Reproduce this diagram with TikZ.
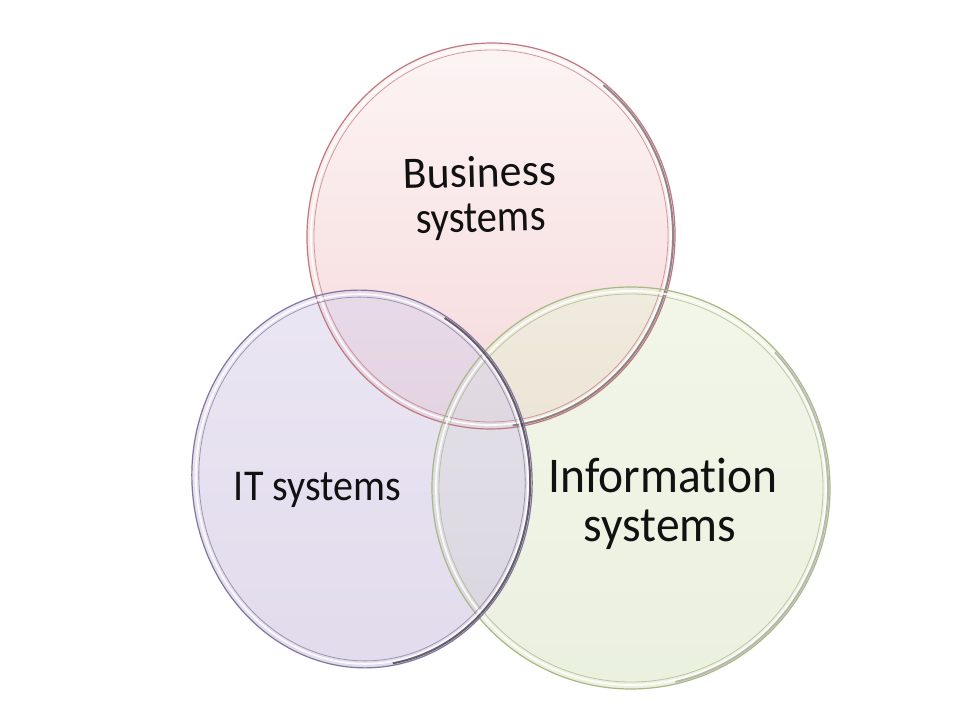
\documentclass[tikz,border=0pt]{standalone}
\usepackage{fontspec}
\setmainfont{Carlito}[Ligatures=NoCommon]
\definecolor{bizTop}{RGB}{252,238,238}
\definecolor{bizBot}{RGB}{240,192,195}
\definecolor{itTop}{RGB}{222,214,236}
\definecolor{itBot}{RGB}{206,196,224}
\definecolor{inTop}{RGB}{234,241,220}
\definecolor{inBot}{RGB}{222,231,202}
\definecolor{bizLine}{RGB}{190,120,126}
\definecolor{itLine}{RGB}{128,118,158}
\definecolor{inLine}{RGB}{168,184,132}
\definecolor{bevel}{RGB}{60,52,62}
\definecolor{ink}{RGB}{17,17,17}
\begin{document}
\begin{tikzpicture}[x=1pt,y=1pt,
  disc/.style={fill opacity=0.6},
  rim/.style={line width=1.2pt},
  glint/.style={white, line width=1.8pt, opacity=0.85},
  innerrim/.style={line width=0.8pt, opacity=0.7},
  shadowrim/.style={bevel, line width=2pt, opacity=0.55},
  lbl/.style={inner sep=0pt, anchor=base, text=ink}]
\fill[white] (0,0) rectangle (960,720);
\useasboundingbox (0,0) rectangle (960,720);
\coordinate (bc) at (491,484);
\coordinate (ic) at (362,241);
\coordinate (nc) at (631,232);
% fills
\begin{scope}[shift={(bc)}, rotate=-3]
  \shade[disc, top color=bizTop, bottom color=bizBot] (0,0) ellipse [x radius=184, y radius=193];
\end{scope}
\begin{scope}[shift={(nc)}, rotate=3]
  \shade[disc, top color=inTop, bottom color=inBot] (0,0) ellipse [x radius=199, y radius=201];
\end{scope}
\begin{scope}[shift={(ic)}, rotate=5]
  \shade[disc, top color=itTop, bottom color=itBot] (0,0) ellipse [x radius=170, y radius=189];
\end{scope}
% rims
\begin{scope}[shift={(bc)}, rotate=-3]
  \draw[glint] (0,0) ellipse [x radius=180, y radius=189];
  \draw[innerrim, bizLine] (0,0) ellipse [x radius=177, y radius=186];
  \draw[shadowrim] ({182*cos(-80)},{191*sin(-80)}) arc [start angle=-80, end angle=55, x radius=182, y radius=191];
  \draw[rim, bizLine] (0,0) ellipse [x radius=184, y radius=193];
\end{scope}
\begin{scope}[shift={(nc)}, rotate=3]
  \draw[glint] (0,0) ellipse [x radius=195, y radius=197];
  \draw[innerrim, inLine] (0,0) ellipse [x radius=192, y radius=194];
  \draw[shadowrim, opacity=0.3] ({197*cos(-80)},{199*sin(-80)}) arc [start angle=-80, end angle=40, x radius=197, y radius=199];
  \draw[rim, inLine] (0,0) ellipse [x radius=199, y radius=201];
\end{scope}
\begin{scope}[shift={(ic)}, rotate=5]
  \draw[glint] (0,0) ellipse [x radius=166, y radius=185];
  \draw[innerrim, itLine] (0,0) ellipse [x radius=163, y radius=182];
  \draw[shadowrim, opacity=0.75] ({168*cos(-85)},{187*sin(-85)}) arc [start angle=-85, end angle=55, x radius=168, y radius=187];
  \draw[rim, itLine] (0,0) ellipse [x radius=170, y radius=189];
\end{scope}
% labels
\node[lbl, rotate=1.5, xscale=0.97] (biz1) at (480,533) {\fontsize{45}{45}\selectfont Business};
\node[lbl, rotate=1.5, xscale=0.9] (biz2) at (481,488) {\fontsize{45}{45}\selectfont systems};
\node[lbl, xscale=0.91] (it1) at (317.5,219) {\fontsize{44}{44}\selectfont IT systems};
\node[lbl, xscale=0.95] (in1) at (663,227) {\fontsize{50}{50}\selectfont Information};
\node[lbl, xscale=0.95] (in2) at (660,178) {\fontsize{50}{50}\selectfont systems};
\end{tikzpicture}
\end{document}
